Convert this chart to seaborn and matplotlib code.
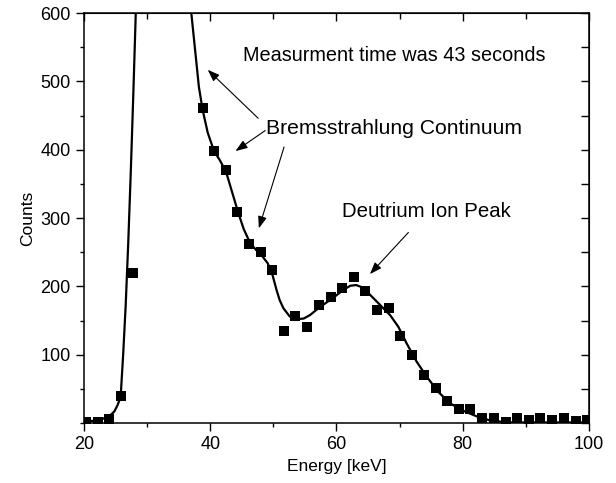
import pandas as pd
import matplotlib
matplotlib.use("Agg")
import matplotlib.pyplot as plt
import seaborn as sns
from matplotlib.ticker import MultipleLocator

# measured spectrum (points visible inside 0-600)
energy = [20.3, 22.2, 24.0, 25.8, 27.7,
          38.8, 40.6, 42.5, 44.3, 46.1, 48.0, 49.8, 51.7, 53.5, 55.4,
          57.2, 59.1, 60.9, 62.8, 64.6, 66.5, 68.3, 70.1, 72.0, 73.8,
          75.7, 77.5, 79.4, 81.2, 83.1, 84.9, 86.8, 88.6, 90.5, 92.3,
          94.2, 96.0, 97.9, 99.7]
counts = [2, 2, 6, 40, 220,
          461, 398, 370, 309, 262, 250, 224, 135, 156, 141,
          173, 184, 197, 214, 193, 166, 169, 128, 100, 71,
          52, 33, 20, 21, 8, 8, 2, 8, 5, 8,
          4, 7, 3, 4]

# fitted curve (two visible pieces)
fit_left_e = [20.0, 21.1, 22.6, 24.0, 24.8, 25.3, 25.8, 26.2, 26.6, 27.0, 27.4, 27.8, 28.2]
fit_left_c = [2, 3, 5, 10, 17, 26, 38, 100, 172, 262, 365, 478, 600]
fit_right_e = [37.0, 37.6, 38.2, 38.8, 39.6, 40.6, 41.5, 42.5, 43.4, 44.4,
               45.3, 46.3, 47.2, 48.1, 49.1, 49.8, 50.5, 51.0, 51.6, 52.6,
               53.7, 54.8, 55.8, 57.4, 59.3, 61.1, 62.2, 63.1, 64.0, 65.3,
               66.9, 68.5, 69.8, 71.1, 72.7, 74.3, 76.1, 78.0, 80.1, 82.2,
               84.3, 87.0, 100.0]
fit_right_c = [600, 546, 492, 458, 425, 398, 385, 368, 340, 309,
               284, 264, 254, 246, 234, 219, 195, 180, 168, 156,
               152, 153, 158, 170, 182, 195, 201, 202, 199, 188,
               173, 158, 141, 117, 90, 68, 46, 29, 18, 10,
               4, 1, 1]

pts = pd.DataFrame({"Energy": energy, "Counts": counts})
fit = pd.concat([
    pd.DataFrame({"Energy": fit_left_e, "Counts": fit_left_c, "seg": 0}),
    pd.DataFrame({"Energy": fit_right_e, "Counts": fit_right_c, "seg": 1}),
])

sns.set_style("ticks")
plt.rcParams["font.family"] = ["Liberation Sans", "DejaVu Sans"]
plt.rcParams.update({"text.color": "black", "axes.labelcolor": "black",
                     "xtick.color": "black", "ytick.color": "black",
                     "axes.edgecolor": "black"})

fig = plt.figure(figsize=(6.16, 4.83), dpi=100)
ax = fig.add_axes([0.1364, 0.124, 0.8196, 0.849])

sns.lineplot(data=fit, x="Energy", y="Counts", units="seg", estimator=None,
             color="black", lw=1.6, ax=ax)
sns.scatterplot(data=pts, x="Energy", y="Counts", marker="s", s=42,
                color="black", edgecolor="black", linewidth=0, ax=ax, zorder=3)

ax.set_xlim(20, 100)
ax.set_ylim(0, 600)
ax.set_xticks([20, 40, 60, 80, 100])
ax.set_yticks([100, 200, 300, 400, 500, 600])
ax.xaxis.set_minor_locator(MultipleLocator(10))
ax.yaxis.set_minor_locator(MultipleLocator(50))
ax.tick_params(which="major", direction="out", length=6, width=1, labelsize=13)
ax.tick_params(which="minor", direction="out", length=3, width=1)
for s in ax.spines.values():
    s.set_visible(True)
    s.set_linewidth(1.1)

top = ax.secondary_xaxis("top")
top.set_xticks([20, 40, 60, 80, 100])
top.xaxis.set_minor_locator(MultipleLocator(10))
top.tick_params(which="both", direction="in", labeltop=False)
top.tick_params(which="major", length=6, width=1)
top.tick_params(which="minor", length=4, width=1)
right = ax.secondary_yaxis("right")
right.set_yticks([100, 200, 300, 400, 500, 600])
right.yaxis.set_minor_locator(MultipleLocator(50))
right.tick_params(which="both", direction="in", labelright=False, length=6, width=1)

ax.set_xlabel("Energy [keV]", fontsize=12.5)
ax.set_ylabel("Counts", fontsize=12.5)

ax.text(45.2, 538, "Measurment time was 43 seconds", fontsize=14.3, va="center", ha="left")
ax.text(48.9, 431, "Bremsstrahlung Continuum", fontsize=15.2, va="center", ha="left")
ax.text(60.8, 309, "Deutrium Ion Peak", fontsize=14.7, va="center", ha="left")

arr = dict(arrowstyle="-|>,head_length=0.6,head_width=0.22", color="black",
           lw=0.8, shrinkA=0, shrinkB=0, mutation_scale=12)
ax.annotate("", xy=(39.6, 517), xytext=(47.6, 446), arrowprops=arr)
ax.annotate("", xy=(44.0, 398), xytext=(48.7, 428), arrowprops=arr)
ax.annotate("", xy=(47.7, 285), xytext=(51.7, 404), arrowprops=arr)
ax.annotate("", xy=(65.3, 218), xytext=(71.4, 279), arrowprops=arr)

plt.savefig("out.png", dpi=100)
